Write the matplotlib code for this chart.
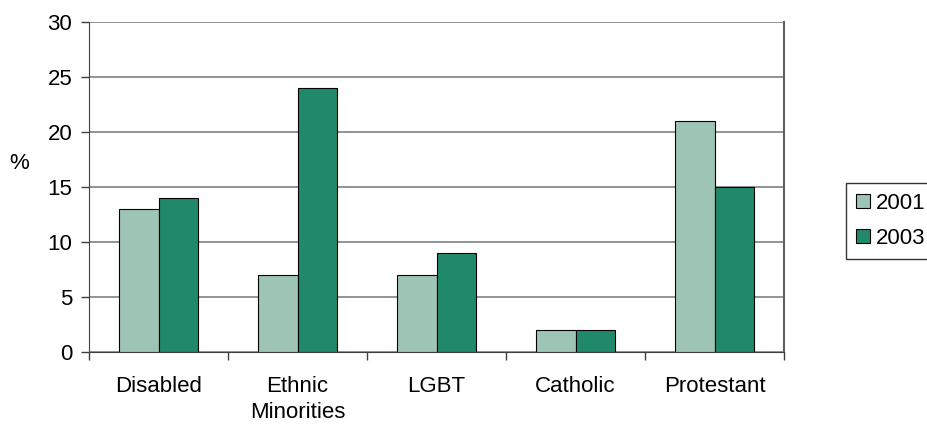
import numpy as np
import matplotlib.pyplot as plt

plt.rcParams['font.family'] = ['Liberation Sans', 'DejaVu Sans']

categories = ['Disabled', 'Ethnic\nMinorities', 'LGBT', 'Catholic', 'Protestant']
years = ['2001', '2003']
pct_2001 = [13, 7, 7, 2, 21]
pct_2003 = [14, 24, 9, 2, 15]

light = '#9dc4b4'
dark = '#21896b'

fig = plt.figure(figsize=(9.27, 4.25), dpi=100)
ax = fig.add_axes([0.096, 0.172, 0.75, 0.776])

x = np.arange(len(categories))
w = 0.285
ax.bar(x - w / 2, pct_2001, w, color=light, edgecolor='black', linewidth=0.8,
       label=years[0], zorder=3)
ax.bar(x + w / 2, pct_2003, w, color=dark, edgecolor='black', linewidth=0.8,
       label=years[1], zorder=3)

ax.set_xlim(-0.5, len(categories) - 0.5)
ax.set_ylim(0, 30)
ax.set_yticks(range(0, 31, 5))
ax.yaxis.grid(True, color='#808080', linewidth=1.2, zorder=0)

# category labels centred, ticks at the group boundaries
ax.set_xticks(x)
ax.set_xticklabels(categories, fontsize=16, linespacing=1.35)
ax.tick_params(axis='x', which='major', length=0, pad=17)
ax.set_xticks(np.arange(-0.5, len(categories)), minor=True)
ax.tick_params(axis='x', which='minor', length=6, width=1, color='#404040')
ax.tick_params(axis='y', length=6, width=1, labelsize=16, pad=6, color='#404040')

ax.spines['top'].set_visible(False)
ax.spines['right'].set_color('#606060')
ax.spines['right'].set_linewidth(1.5)
ax.spines['left'].set_color('#404040')
ax.spines['bottom'].set_color('#404040')

ax.set_ylabel('%', rotation=0, fontsize=16)
ax.yaxis.set_label_coords(-0.1, 0.54)

leg = fig.legend(loc='upper left', bbox_to_anchor=(0.913, 0.569), fontsize=16,
                 frameon=True, fancybox=False, edgecolor='black',
                 handlelength=0.6, handleheight=0.6, handletextpad=0.3,
                 borderpad=0.45, labelspacing=0.6, borderaxespad=0)
leg.get_frame().set_linewidth(1)

fig.savefig('out.png', dpi=100)
